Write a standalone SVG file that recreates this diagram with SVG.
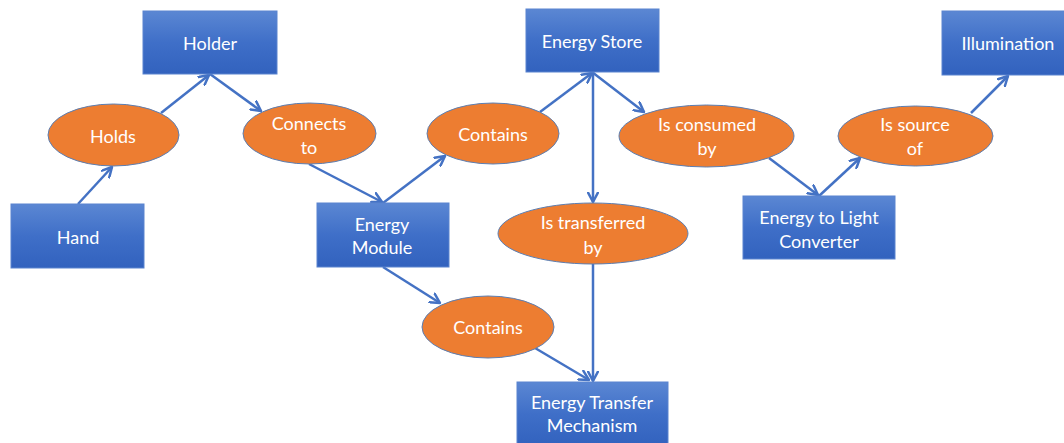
<svg xmlns="http://www.w3.org/2000/svg" width="1064" height="443" viewBox="0 0 1064 443">
<defs>
<linearGradient id="boxg" x1="0" y1="0" x2="0" y2="1">
<stop offset="0" stop-color="#5B87D3"/>
<stop offset="0.5" stop-color="#3F6FC8"/>
<stop offset="1" stop-color="#3262BE"/>
</linearGradient>
<marker id="arr" viewBox="0 0 12 12" refX="10.5" refY="6" markerWidth="12" markerHeight="12" markerUnits="userSpaceOnUse" orient="auto">
<path d="M1,1 L10.5,6 L1,11" fill="none" stroke="#4472C4" stroke-width="2.5" stroke-linecap="round" stroke-linejoin="round"/>
</marker>
</defs>
<style>
.box{fill:url(#boxg);stroke:#5A84CF;stroke-width:1}
.ell{fill:#ED7D31;stroke:#5B7FB4;stroke-width:1}
.t{font-family:Lato,"Open Sans",sans-serif;font-size:18px;fill:#FFFFFF;text-anchor:middle;dominant-baseline:central}
.c{fill:none;stroke:#4472C4;stroke-width:2.5;marker-end:url(#arr)}
</style>
<rect width="1064" height="443" fill="#FFFFFF"/>
<g id="connectors">
<line class="c" x1="78" y1="204" x2="112" y2="167"/>
<line class="c" x1="161" y1="113" x2="209" y2="75"/>
<line class="c" x1="210" y1="74" x2="261" y2="111"/>
<line class="c" x1="309" y1="164" x2="382" y2="202"/>
<line class="c" x1="383" y1="203" x2="445" y2="156"/>
<line class="c" x1="540" y1="112" x2="592" y2="73"/>
<line class="c" x1="592" y1="72" x2="644" y2="112"/>
<line class="c" x1="593" y1="72" x2="593" y2="202"/>
<line class="c" x1="593" y1="264" x2="593" y2="381"/>
<line class="c" x1="383" y1="267" x2="440" y2="303"/>
<line class="c" x1="535" y1="348" x2="589" y2="380"/>
<line class="c" x1="769" y1="158" x2="818" y2="195"/>
<line class="c" x1="819" y1="196" x2="860" y2="158"/>
<line class="c" x1="971" y1="113" x2="1008" y2="76"/>
</g>
<g id="hand"><rect class="box" x="11" y="204" width="133" height="64"/><text class="t" x="78" y="237">Hand</text></g>
<g id="holder"><rect class="box" x="143" y="11" width="134" height="63"/><text class="t" x="210" y="43">Holder</text></g>
<g id="energy-module"><rect class="box" x="317" y="203" width="132" height="64"/><text class="t" x="382" y="224">Energy</text><text class="t" x="382" y="247">Module</text></g>
<g id="energy-store"><rect class="box" x="526" y="9" width="133" height="63"/><text class="t" x="592" y="41">Energy Store</text></g>
<g id="illumination"><rect class="box" x="942" y="11" width="133" height="64"/><text class="t" x="1008" y="43">Illumination</text></g>
<g id="converter"><rect class="box" x="743" y="196" width="152" height="63"/><text class="t" x="819" y="217">Energy to Light</text><text class="t" x="819" y="241">Converter</text></g>
<g id="transfer-mechanism"><rect class="box" x="517" y="382" width="151" height="64"/><text class="t" x="592" y="402">Energy Transfer</text><text class="t" x="592" y="425">Mechanism</text></g>
<g id="holds"><ellipse class="ell" cx="113.5" cy="135" rx="65.5" ry="31"/><text class="t" x="113" y="136">Holds</text></g>
<g id="connects-to"><ellipse class="ell" cx="309.5" cy="133.5" rx="66.5" ry="30.5"/><text class="t" x="309" y="123">Connects</text><text class="t" x="309" y="147">to</text></g>
<g id="contains-top"><ellipse class="ell" cx="493" cy="133.5" rx="66" ry="30.5"/><text class="t" x="493" y="134">Contains</text></g>
<g id="is-consumed-by"><ellipse class="ell" cx="706.5" cy="136" rx="87.5" ry="31"/><text class="t" x="707" y="124">Is consumed</text><text class="t" x="707" y="148">by</text></g>
<g id="is-source-of"><ellipse class="ell" cx="915.5" cy="136" rx="77.5" ry="30"/><text class="t" x="915" y="124">Is source</text><text class="t" x="915" y="148">of</text></g>
<g id="is-transferred-by"><ellipse class="ell" cx="593" cy="233.5" rx="95" ry="30.5"/><text class="t" x="593" y="222">Is transferred</text><text class="t" x="593" y="247">by</text></g>
<g id="contains-bottom"><ellipse class="ell" cx="488" cy="327" rx="66" ry="31"/><text class="t" x="488" y="327">Contains</text></g>
</svg>
